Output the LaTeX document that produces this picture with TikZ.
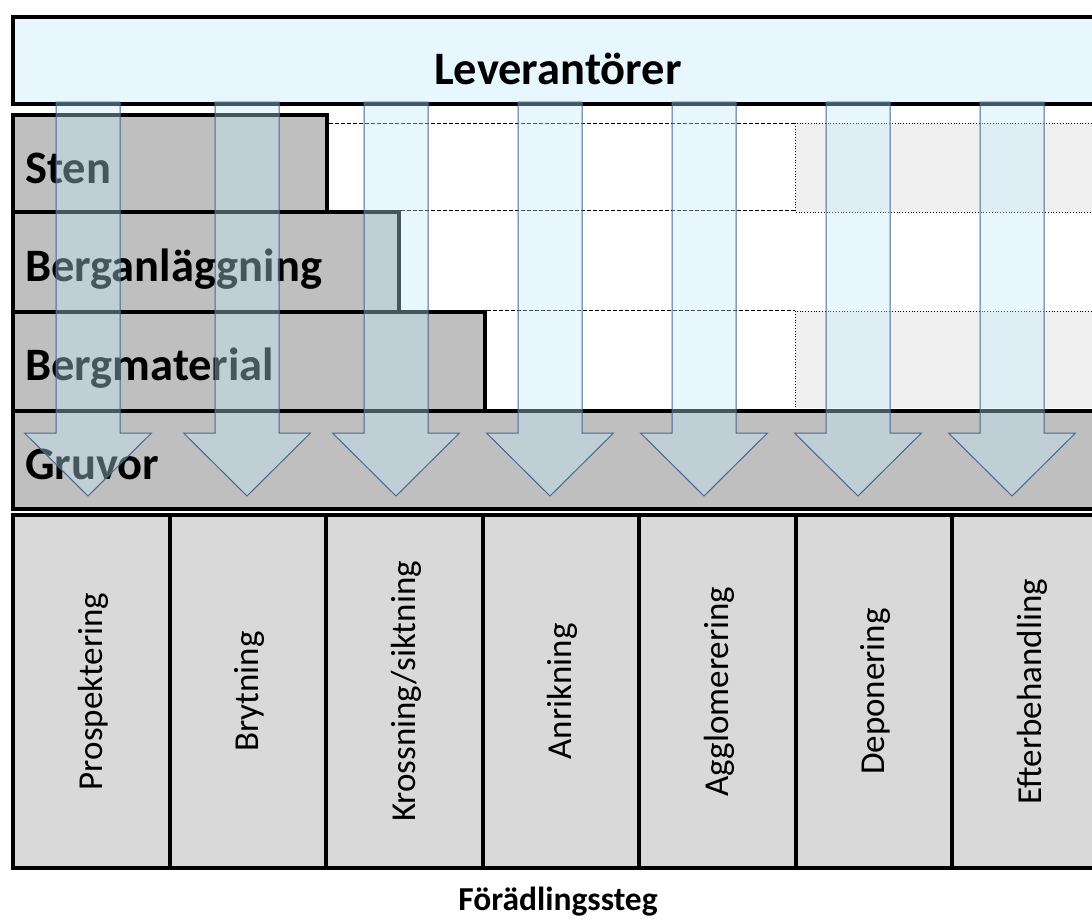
\documentclass[tikz,border=0pt]{standalone}
\usepackage{fontspec}
\setmainfont{Carlito}
\definecolor{levfill}{RGB}{232,247,253}
\definecolor{rowgray}{RGB}{191,191,191}
\definecolor{colgray}{RGB}{217,217,217}
\definecolor{restfill}{RGB}{240,240,240}
\definecolor{flowfill}{RGB}{193,236,252}
\definecolor{flowline}{RGB}{70,102,148}
\tikzset{
  box/.style={draw, line width=4pt, inner sep=0pt, anchor=north west},
  rowlabel/.style={anchor=base west, inner sep=0pt, font=\fontsize{46.5}{56}\selectfont\bfseries},
  steplabel/.style={rotate=90, inner sep=0pt, font=\fontsize{35}{42}\selectfont},
  rest/.style={draw, line width=0.8pt, dotted},
  rowline/.style={line width=0.8pt, dash pattern=on 4pt off 2pt},
  flow/.style={draw=flowline, line width=1pt, fill=flowfill, fill opacity=0.37, line join=miter}
}
\begin{document}
\begin{tikzpicture}[x=1pt, y=-1pt]
\useasboundingbox (0,0) rectangle (1092,921);

% suppliers
\node[box, fill=levfill, minimum width=1100, minimum height=87] (lev) at (11,15) {};
\node[rowlabel] (levtxt) at (434,84) {Leverantörer};

% empty part of the rows
\fill[restfill] (795,123) rectangle (1100,212);
\fill[restfill] (795,311) rectangle (1100,408);
\draw[rest] (1100,123) -- (795,123) -- (795,212) -- (1100,212);
\draw[rest] (1100,311) -- (795,311) -- (795,408);

% rows
\node[box, fill=rowgray, minimum width=314, minimum height=97] (sten) at (11,113) {};
\node[box, fill=rowgray, minimum width=386, minimum height=100] (berganl) at (11,210) {};
\node[box, fill=rowgray, minimum width=472, minimum height=99] (bergmat) at (11,310) {};
\node[box, fill=rowgray, minimum width=1100, minimum height=98] (gruvor) at (11,409) {};
\coordinate (rowend) at (795,123);
\draw[rowline] (sten.east |- rowend) -- (rowend);
\draw[rowline] (berganl.north east) -- (berganl.north east -| rowend);
\draw[rowline] (bergmat.north east) -- (bergmat.north east -| rowend);

\node[rowlabel] (stentxt) at (25,183) {Sten};
\node[rowlabel] (berganltxt) at (25,281) {Berganläggning};
\node[rowlabel] (bergmattxt) at (25,380) {Bergmaterial};
\node[rowlabel] (gruvortxt) at (25,479) {Gruvor};

% steps
\foreach \name [count=\i from 0] in {Prospektering,Brytning,Krossning/siktning,Anrikning,Agglomerering,Deponering,Efterbehandling}
{
  \node[box, fill=colgray, minimum width=156.5, minimum height=353] (step\i) at (11+156.5*\i,513) {};
  \node[steplabel] (steptxt\i) at ([xshift=2]step\i.center) {\name};
}
\node[anchor=base, inner sep=0pt, font=\fontsize{33.5}{40}\selectfont\bfseries] (steg) at (558,910) {Förädlingssteg};

% arrows
\foreach \c in {88,247,396,550,704,858,1012}
  \draw[flow] (\c-32,102) -- (\c-32,433) -- (\c-63.5,433) -- (\c,496) -- (\c+63.5,433) -- (\c+32,433) -- (\c+32,102) -- cycle;

\end{tikzpicture}
\end{document}
